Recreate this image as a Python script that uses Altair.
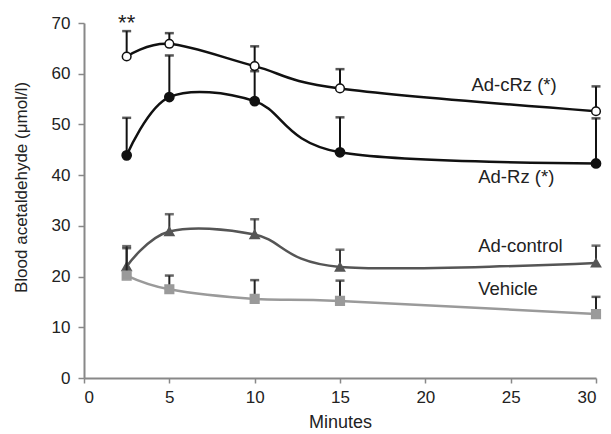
import altair as alt
import pandas as pd

minutes = [2.5, 5, 10, 15, 30]
series = ["Ad-cRz (*)", "Ad-Rz (*)", "Ad-control", "Vehicle"]
cRz_mean = [63.4, 65.9, 61.5, 57.1, 52.6]
cRz_top = [68.4, 68.0, 65.4, 60.9, 57.5]
rz_mean = [43.9, 55.4, 54.6, 44.5, 42.3]
rz_top = [51.3, 63.6, 60.5, 51.4, 51.2]
ctrl_mean = [22.0, 28.9, 28.3, 21.9, 22.7]
ctrl_top = [26.0, 32.3, 31.3, 25.3, 26.1]
veh_mean = [20.2, 17.5, 15.6, 15.2, 12.6]
veh_top = [25.6, 20.2, 19.3, 19.2, 16.0]

label_x = [22.7, 23.1, 23.1, 23.1]
label_y = [57.7, 39.7, 26.0, 17.6]
star_x = [2.5]
star_y = [68.7]
star_text = ["**"]

means = [cRz_mean, rz_mean, ctrl_mean, veh_mean]
tops = [cRz_top, rz_top, ctrl_top, veh_top]
colors = ["#111111", "#111111", "#555555", "#9a9a9a"]
err_colors = ["#111111", "#111111", "#333333", "#222222"]
shapes = ["circle", "circle", "triangle-up", "square"]
fills = ["white", "#111111", "#555555", "#9a9a9a"]
sizes = [75, 85, 85, 75]

xs = alt.Scale(domain=[0, 30])
ys = alt.Scale(domain=[0, 70])
xax = alt.Axis(values=[0, 5, 10, 15, 20, 25, 30], title="Minutes", tickSize=5,
               labelPadding=6, titlePadding=8)
yax = alt.Axis(values=[0, 10, 20, 30, 40, 50, 60, 70], title="Blood acetaldehyde (μmol/l)",
               tickSize=6, labelPadding=8, titleFontSize=17, titleX=-54, titleY=164)

layers = []
for i, name in enumerate(series):
    df = pd.DataFrame({"min": minutes, "mean": means[i], "top": tops[i], "s": name})
    base = alt.Chart(df)
    err = base.mark_rule(color=err_colors[i], strokeWidth=2).encode(
        x=alt.X("min:Q", scale=xs, axis=xax),
        y=alt.Y("mean:Q", scale=ys, axis=yax),
        y2="top:Q",
    )
    cap = base.mark_tick(color=err_colors[i], orient="horizontal", size=9, thickness=2.5).encode(
        x="min:Q", y="top:Q"
    )
    line = base.mark_line(color=colors[i], strokeWidth=2.5, interpolate="cardinal").encode(
        x="min:Q", y="mean:Q"
    )
    pts = base.mark_point(shape=shapes[i], filled=True, fill=fills[i], stroke=colors[i],
                          strokeWidth=1.5, size=sizes[i], opacity=1).encode(
        x="min:Q", y="mean:Q"
    )
    layers += [err, cap, line, pts]

lab_df = pd.DataFrame({"x": label_x, "y": label_y, "t": series})
labels = alt.Chart(lab_df).mark_text(align="left", baseline="middle", fontSize=18.5,
                                     font="Liberation Sans", color="#222222").encode(
    x="x:Q", y="y:Q", text="t:N"
)
star_df = pd.DataFrame({"x": star_x, "y": star_y, "t": star_text})
star = alt.Chart(star_df).mark_text(align="center", baseline="alphabetic", fontSize=22,
                                    font="Liberation Sans", color="#222222").encode(
    x="x:Q", y="y:Q", text="t:N"
)

chart = alt.layer(*layers, labels, star).properties(
    width=512, height=355,
    autosize=alt.AutoSizeParams(type="none"),
    padding={"left": 76, "top": 15, "right": 7, "bottom": 56},
).configure_view(stroke=None).configure_axis(
    grid=False, domainColor="#888888", tickColor="#888888", domainWidth=2, tickWidth=1.5,
    labelFont="Liberation Sans", titleFont="Liberation Sans",
    labelFontSize=17, titleFontSize=18, labelColor="#222222", titleColor="#222222",
    titleFontWeight="normal",
)

chart.save("out.html", embed_options={"renderer": "svg", "actions": False})
